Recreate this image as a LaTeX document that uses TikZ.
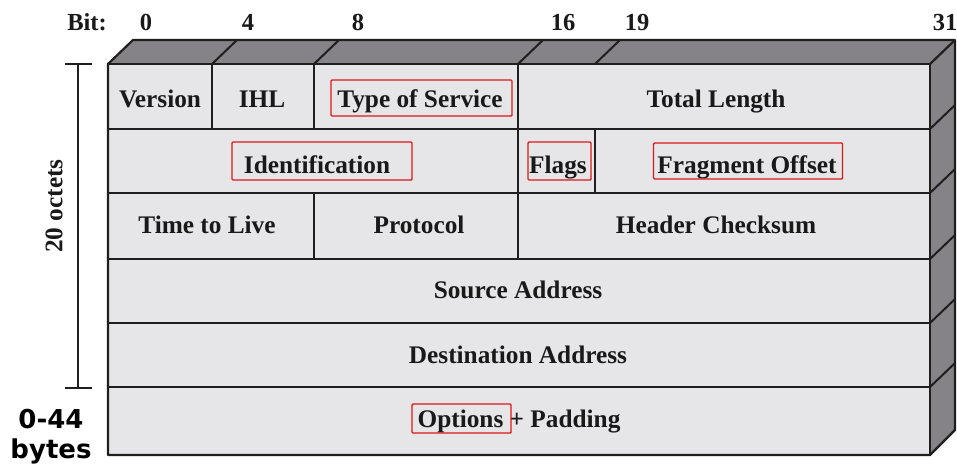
\documentclass[tikz,border=0pt]{standalone}
\usepackage{fontspec}
\setmainfont{Liberation Serif}
\newfontfamily\labelsans{DejaVu Sans}
\begin{document}
\begin{tikzpicture}[x=1pt,y=-1pt,
  edge/.style={draw=black!88,line width=2pt,line join=round},
  frontface/.style={fill=facelight},
  sideface/.style={fill=facedark},
  fieldtext/.style={font=\fontsize{25.3}{27}\selectfont\bfseries,text=black!90,inner sep=0pt,anchor=base},
  bittext/.style={font=\fontsize{24.5}{26}\selectfont\bfseries,text=black!90,inner sep=0pt,anchor=base},
  sizetext/.style={font=\labelsans\fontsize{26}{28}\selectfont\bfseries,text=black,inner sep=0pt,anchor=base},
  redbox/.style={draw=red!85!black!90,line width=1.4pt,rounded corners=1pt,inner sep=0pt}]
\definecolor{facelight}{HTML}{E6E5E7}
\definecolor{facedark}{HTML}{858387}
\useasboundingbox (0,0) rectangle (957,466);

% corners of the block
\coordinate (fl) at (108,64);  \coordinate (fr) at (930,64);
\coordinate (bl) at (108,455); \coordinate (br) at (930,455);
\coordinate (tl) at (133,40);  \coordinate (tr) at (955,40);
\coordinate (rb) at (955,430);

% faces
\fill[frontface] (fl) rectangle (br);
\fill[sideface] (fl) -- (tl) -- (tr) -- (fr) -- cycle;
\fill[sideface] (fr) -- (tr) -- (rb) -- (br) -- cycle;

% top face: slanted bit markers
\foreach \x in {212,314,518,595}
  \draw[edge] (\x,64) -- ++(25,-24);

% right face: row boundaries
\foreach \y in {129,193,259,323,387}
  \draw[edge] (930,\y) -- ++(25,-24);

% rows of the front face
\foreach \y in {129,193,259,323,387}
  \draw[edge] (108,\y) -- (930,\y);

% field dividers
\draw[edge] (212,64) -- (212,129);
\draw[edge] (314,64) -- (314,129);
\draw[edge] (518,64) -- (518,259);
\draw[edge] (595,129) -- (595,193);
\draw[edge] (314,193) -- (314,259);

% outline
\draw[edge,line width=2.2pt] (fl) -- (tl) -- (tr) -- (rb) -- (br) -- (bl) -- cycle;
\draw[edge,line width=2.2pt] (fl) -- (fr) -- (br);
\draw[edge,line width=2.2pt] (fr) -- (tr);

% bit numbers
\node[bittext] (bitlbl) at (87,30) {Bit:};
\node[bittext] (b0) at (146,30) {0};
\node[bittext] (b4) at (248,30) {4};
\node[bittext] (b8) at (358,30) {8};
\node[bittext] (b16) at (563,30) {16};
\node[bittext] (b19) at (637,30) {19};
\node[bittext] (b31) at (945,30) {31};

% header fields
\node[fieldtext] (version) at (160,107) {Version};
\node[fieldtext] (ihl) at (262,107) {IHL};
\node[fieldtext] (tos) at (420,107) {Type of Service};
\node[fieldtext] (totlen) at (716,107) {Total Length};
\node[fieldtext] (ident) at (317,173) {Identification};
\node[fieldtext] (flags) at (558,173) {Flags};
\node[fieldtext] (fragoff) at (747,173) {Fragment Offset};
\node[fieldtext] (ttl) at (207,233) {Time to Live};
\node[fieldtext] (proto) at (419,233) {Protocol};
\node[fieldtext] (cksum) at (716,233) {Header Checksum};
\node[fieldtext] (src) at (518,298) {Source Address};
\node[fieldtext] (dst) at (518,363) {Destination Address};
\node[fieldtext] (opts) at (519,427) {Options + Padding};

% highlighted fields
\node[redbox,minimum width=181pt,minimum height=36pt] (tosbox) at (421.5,98) {};
\node[redbox,minimum width=180pt,minimum height=38pt] (identbox) at (322,161) {};
\node[redbox,minimum width=63pt,minimum height=38pt] (flagsbox) at (559.5,161) {};
\node[redbox,minimum width=189pt,minimum height=36pt] (fragbox) at (748,161) {};
\node[redbox,minimum width=99pt,minimum height=29pt] (optsbox) at (461.5,418.5) {};

% header length bracket
\coordinate (dimtop) at (78,64);
\coordinate (dimbot) at (78,388);
\draw[edge] (dimtop) -- (dimbot);
\draw[edge] ([xshift=-13pt]dimtop) -- ([xshift=14pt]dimtop);
\draw[edge] ([xshift=-13pt]dimbot) -- ([xshift=14pt]dimbot);
\node[fieldtext,anchor=center,rotate=90] (octets) at (54,206) {20 octets};

\node[sizetext] (optsize) at (51,428) {0-44};
\node[sizetext] (optunit) at (51,458) {bytes};
\end{tikzpicture}
\end{document}
